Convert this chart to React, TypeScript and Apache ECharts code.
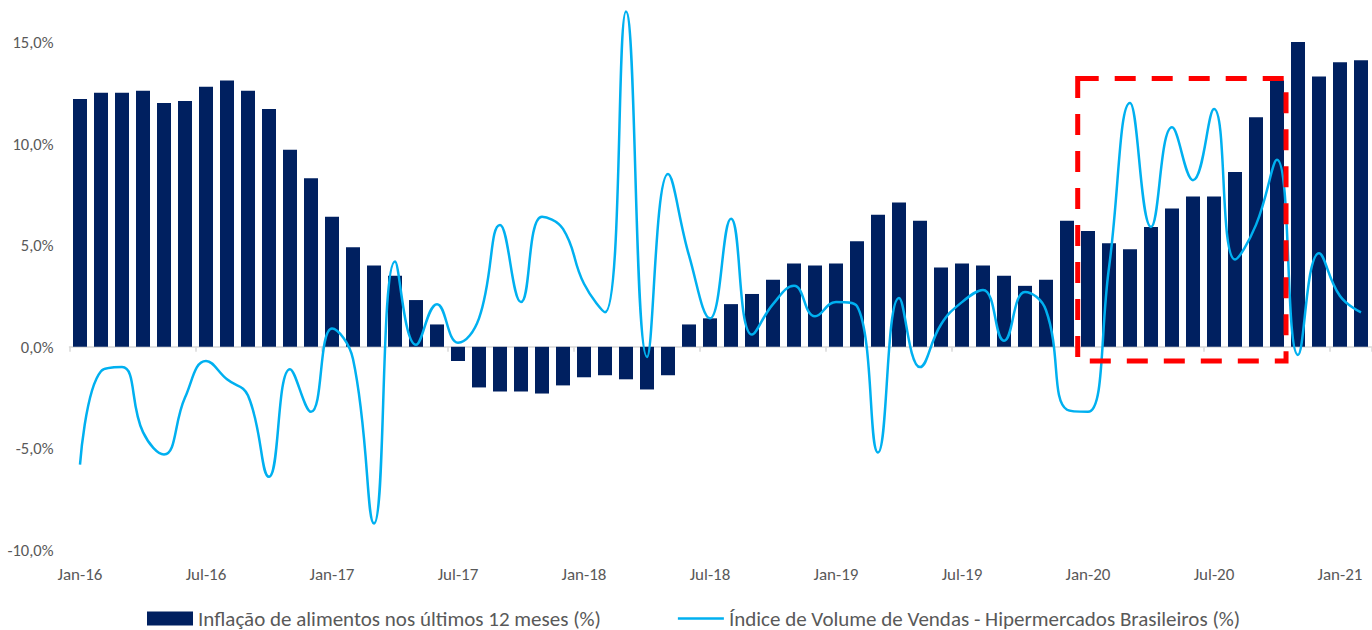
import { useEffect, useRef } from 'react';
import * as echarts from 'echarts';

// Monthly categories, Jan-16 .. Feb-21
const MONTHS = ['Jan', 'Feb', 'Mar', 'Apr', 'May', 'Jun', 'Jul', 'Aug', 'Sep', 'Oct', 'Nov', 'Dec'];
const YEARS = ['16', '17', '18', '19', '20', '21'];
const categories: string[] = [];
YEARS.forEach((y) => MONTHS.forEach((m) => categories.push(`${m}-${y}`)));
categories.splice(62);

const BAR_NAME = 'Inflação de alimentos nos últimos 12 meses (%)';
const LINE_NAME = 'Índice de Volume de Vendas - Hipermercados Brasileiros (%)';

// Food inflation, 12-month accumulated (%)
const foodInflation = [
  12.2, 12.5, 12.5, 12.6, 12.0, 12.1, 12.8, 13.1, 12.6, 11.7, 9.7, 8.3,
  6.4, 4.9, 4.0, 3.5, 2.3, 1.1, -0.7, -2.0, -2.2, -2.2, -2.3, -1.9,
  -1.5, -1.4, -1.6, -2.1, -1.4, 1.1, 1.4, 2.1, 2.6, 3.3, 4.1, 4.0,
  4.1, 5.2, 6.5, 7.1, 6.2, 3.9, 4.1, 4.0, 3.5, 3.0, 3.3, 6.2,
  5.7, 5.1, 4.8, 5.9, 6.8, 7.4, 7.4, 8.6, 11.3, 13.1, 15.0, 13.3,
  14.0, 14.1,
];

// Hypermarket sales volume index (%)
const hypermarketSales = [
  -5.8, -1.2, -1.0, -4.2, -5.3, -2.5, -0.7, -1.6, -2.4, -6.4, -1.1, -3.2,
  0.9, -0.6, -8.7, 4.2, 0.1, 2.1, 0.2, 1.4, 6.0, 2.2, 6.4, 5.8,
  3.1, 1.7, 16.5, -0.5, 8.5, 4.5, 1.4, 6.3, 0.6, 2.1, 3.0, 1.5,
  2.2, 2.0, -5.2, 2.4, -1.0, 1.1, 2.2, 2.8, 0.3, 2.7, 1.8, -3.1,
  -3.2, 3.9, 12.0, 5.9, 10.8, 8.2, 11.7, 4.3, 6.0, 9.2, -0.4, 4.6,
  2.5, 1.7,
];

// Value axis range (%)
const Y_MIN = -10;
const Y_MAX = 15;
const Y_STEP = 5;

// Highlighted pandemic period
const highlightFrom = 'Jan-20';
const highlightTo = 'Oct-20';
const highlightTop = 13.2;
const highlightBottom = -0.7;

const FONT = 'Carlito, Calibri, Lato, sans-serif';
const TEXT = '#595959';

export default function App() {
  const ref = useRef<HTMLDivElement>(null);

  useEffect(() => {
    if (!ref.current) return;
    const chart = echarts.init(ref.current, undefined, { renderer: 'svg' });
    chart.setOption({
      animation: false,
      backgroundColor: '#FFFFFF',
      textStyle: { fontFamily: FONT },
      grid: { left: 69.5, right: 0.5, top: 42, bottom: 80 },
      legend: {
        left: 142,
        top: 603,
        itemWidth: 46,
        itemHeight: 14,
        itemGap: 77,
        textStyle: { color: TEXT, fontSize: 21, fontFamily: FONT },
        data: [
          { name: BAR_NAME, icon: 'rect' },
          { name: LINE_NAME, icon: 'path://M0,0 H46 V2.5 H0 Z' },
        ],
      },
      xAxis: [
        {
          type: 'category',
          data: categories,
          axisLine: { onZero: true, lineStyle: { color: '#D9D9D9', width: 1.5 } },
          axisTick: { show: true, interval: 5, length: 5, lineStyle: { color: '#D9D9D9', width: 1.5 } },
          axisLabel: { show: false },
          splitLine: { show: false },
        },
        {
          type: 'category',
          data: categories,
          position: 'bottom',
          axisLine: { show: false, onZero: false },
          axisTick: { show: false },
          axisLabel: { interval: 5, color: TEXT, fontSize: 17, margin: 16, fontFamily: FONT },
          splitLine: { show: false },
        },
      ],
      yAxis: {
        type: 'value',
        min: Y_MIN,
        max: Y_MAX,
        interval: Y_STEP,
        axisLine: { show: false },
        axisTick: { show: false },
        splitLine: { show: false },
        axisLabel: {
          color: TEXT,
          fontSize: 16.5,
          margin: 16,
          fontFamily: FONT,
          formatter: (v: number) => `${v.toFixed(1).replace('.', ',')}%`,
        },
      },
      series: [
        {
          name: BAR_NAME,
          type: 'bar',
          data: foodInflation,
          barWidth: 14,
          itemStyle: { color: '#002060' },
          z: 2,
        },
        {
          name: LINE_NAME,
          type: 'line',
          data: hypermarketSales,
          smooth: 0.45,
          symbol: 'none',
          clip: false,
          lineStyle: { color: '#00B0F0', width: 2.5 },
          itemStyle: { color: '#00B0F0' },
          z: 3,
        },
        {
          type: 'custom',
          silent: true,
          z: 4,
          clip: false,
          encode: { x: [0, 2], y: [1, 3] },
          data: [[categories.indexOf(highlightFrom), highlightTop, categories.indexOf(highlightTo), highlightBottom]],
          renderItem: (_params: any, api: any) => {
            const band = api.size([1, 0])[0];
            const p0 = api.coord([api.value(0), api.value(1)]);
            const p1 = api.coord([api.value(2), api.value(3)]);
            const x0 = p0[0] - band * 0.49;
            const x1 = p1[0] + band * 0.43;
            return {
              type: 'rect',
              shape: { x: x0, y: p0[1], width: x1 - x0, height: p1[1] - p0[1] },
              style: { fill: 'none', stroke: '#FF0000', lineWidth: 5, lineDash: [21, 16] },
            };
          },
        },
      ],
    });
    return () => chart.dispose();
  }, []);

  return (
    <div
      ref={ref}
      style={{ position: 'absolute', left: 0, top: 0, width: 1372, height: 630, background: '#FFFFFF' }}
    />
  );
}
